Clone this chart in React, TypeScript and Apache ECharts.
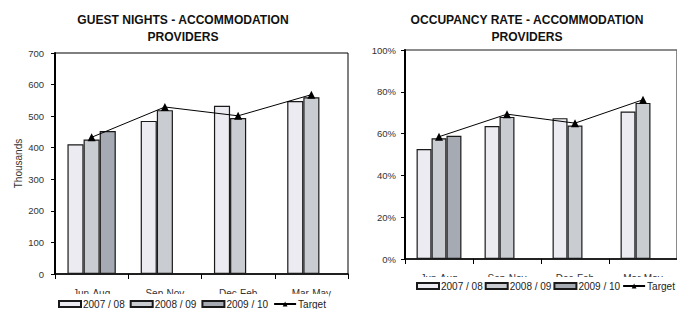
import React, { useEffect, useRef } from "react";
import * as echarts from "echarts";

const categories = ["Jun-Aug", "Sep-Nov", "Dec-Feb", "Mar-May"];
const seriesNames = ["2007 / 08", "2008 / 09", "2009 / 10", "Target"];

const guest0708 = [411, 485, 533, 548];
const guest0809 = [426, 519, 494, 560];
const guest0910 = [453, null, null, null];
const guestTarget = [433, 529, 501, 568];

const occ0708 = [52.6, 63.6, 67.4, 70.6];
const occ0809 = [57.8, 68, 63.9, 74.7];
const occ0910 = [59, null, null, null];
const occTarget = [58.5, 69.3, 65, 76.2];

const guestTicks = [0, 700, 100];
const occTicks = [0, 100, 20];

const FONT = "'Liberation Sans', Arial, sans-serif";
const fills = ["#ebebf1", "#c9ccd1", "#a6abb3"];

export default function App() {
  const ref = useRef<HTMLDivElement>(null);
  useEffect(() => {
    if (!ref.current) return;
    const chart = echarts.init(ref.current, null, { renderer: "svg" });
    const barSeries = (name: string, data: any[], idx: number, axis: number, gap: string) => ({
      type: "bar",
      name,
      data,
      xAxisIndex: axis,
      yAxisIndex: axis,
      barGap: "0%",
      barCategoryGap: gap,
      itemStyle: { color: fills[idx], borderColor: "#1a1a1a", borderWidth: 1.2 },
      z: 2,
    });
    const lineSeries = (data: number[], axis: number) => ({
      type: "line",
      name: "Target",
      data,
      xAxisIndex: axis,
      yAxisIndex: axis,
      symbol: "triangle",
      symbolSize: 8,
      lineStyle: { color: "#000", width: 1 },
      itemStyle: { color: "#000" },
      z: 5,
    });
    const labelStyle = { color: "#333", fontFamily: FONT, fontSize: 9.5 };
    const legendData = seriesNames.map((n, i) => (i < 3 ? { name: n, icon: "rect" } : { name: n }));
    const legendBase = {
      data: legendData,
      itemWidth: 22,
      itemHeight: 6,
      width: 320,
      backgroundColor: "#fff",
      textStyle: { color: "#222", fontFamily: FONT, fontSize: 10, padding: [0, 0, 0, -3] },
      orient: "horizontal",
    };
    const titleStyle = {
      textAlign: "center",
      fontFamily: FONT,
      fontWeight: "bold",
      fontSize: 13,
      lineHeight: 17,
      fill: "#111",
    };
    chart.setOption({
      animation: false,
      graphic: [
        {
          type: "text",
          x: 183,
          y: 11,
          scaleX: 0.93,
          style: { ...titleStyle, text: "GUEST NIGHTS - ACCOMMODATION\nPROVIDERS" },
        },
        {
          type: "text",
          x: 527,
          y: 11,
          scaleX: 0.93,
          style: { ...titleStyle, text: "OCCUPANCY RATE - ACCOMMODATION\nPROVIDERS" },
        },
      ],
      legend: [
        { ...legendBase, itemGap: 5, left: 55, top: 294, padding: [5, 3, 3, 3] },
        { ...legendBase, itemGap: 2, left: 413, top: 277, padding: [4, 3, 3, 3] },
      ],
      grid: [
        { left: 55, top: 53, width: 293, height: 221, show: true, borderColor: "#000", borderWidth: 1 },
        { left: 405, top: 50, width: 277, height: 209, show: true, borderColor: "#666", borderWidth: 1.5 },
      ],
      xAxis: [0, 1].map((i) => ({
        type: "category",
        gridIndex: i,
        data: categories,
        axisLine: { lineStyle: { color: "#000", width: 1.5 } },
        axisTick: { show: true, length: 5, lineStyle: { color: "#000" } },
        axisLabel: { ...labelStyle, fontSize: 10, margin: 14 },
      })),
      yAxis: [
        {
          type: "value",
          gridIndex: 0,
          min: guestTicks[0],
          max: guestTicks[1],
          interval: guestTicks[2],
          name: "Thousands",
          nameLocation: "middle",
          nameGap: 32,
          nameTextStyle: { ...labelStyle, fontSize: 10 },
          axisLine: { show: true, lineStyle: { color: "#000", width: 2 } },
          axisTick: { show: true, length: 4, lineStyle: { color: "#000" } },
          axisLabel: { ...labelStyle, margin: 11 },
          splitLine: { show: false },
        },
        {
          type: "value",
          gridIndex: 1,
          min: occTicks[0],
          max: occTicks[1],
          interval: occTicks[2],
          axisLine: { show: true, lineStyle: { color: "#000", width: 2 } },
          axisTick: { show: true, length: 4, lineStyle: { color: "#000" } },
          axisLabel: { ...labelStyle, margin: 9, formatter: "{value}%" },
          splitLine: { show: false },
        },
      ],
      series: [
        barSeries(seriesNames[0], guest0708, 0, 0, "34%"),
        barSeries(seriesNames[1], guest0809, 1, 0, "34%"),
        barSeries(seriesNames[2], guest0910, 2, 0, "34%"),
        lineSeries(guestTarget, 0),
        barSeries(seriesNames[0], occ0708, 0, 1, "34%"),
        barSeries(seriesNames[1], occ0809, 1, 1, "34%"),
        barSeries(seriesNames[2], occ0910, 2, 1, "34%"),
        lineSeries(occTarget, 1),
      ],
    });
    return () => chart.dispose();
  }, []);
  return (
    <div
      ref={ref}
      style={{ position: "absolute", left: 0, top: 0, width: 677, height: 309, background: "#fff" }}
    />
  );
}
